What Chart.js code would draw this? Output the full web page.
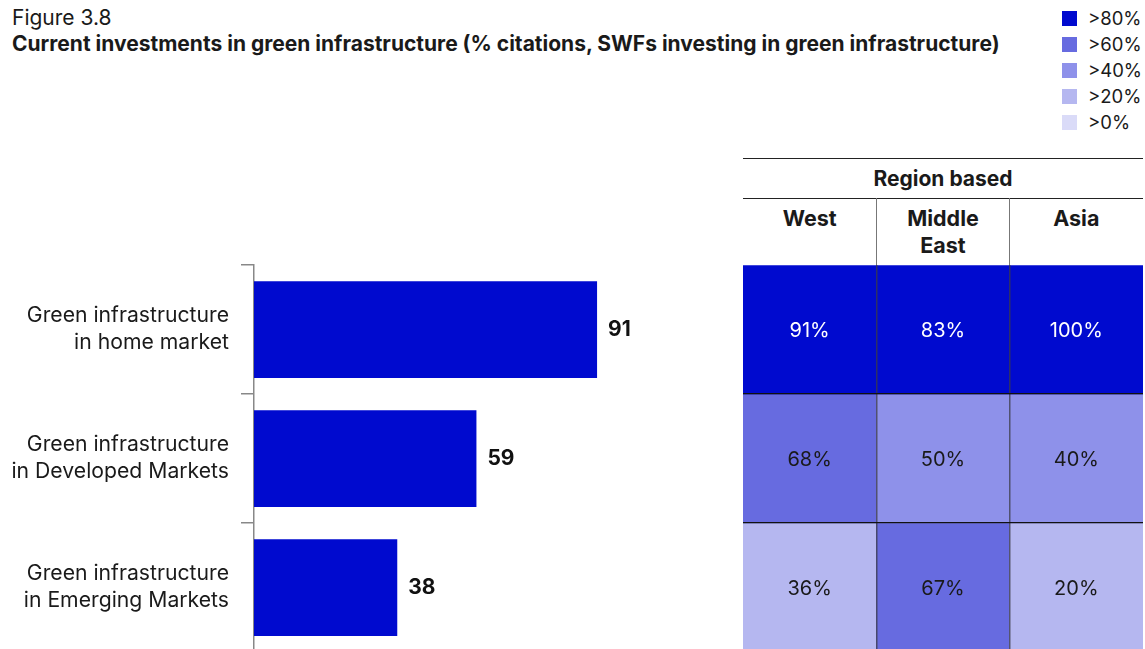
<!DOCTYPE html>
<html>
<head>
<meta charset="utf-8">
<script src="https://cdn.jsdelivr.net/npm/chart.js@4"></script>
<style>
  html, body { margin:0; padding:0; width:1145px; height:649px; overflow:hidden; background:#fff; }
  body { position:relative; font-family: Inter, "Noto Sans", sans-serif; color:#1a1a1a; }
  .abs { position:absolute; white-space:nowrap; }
  #fig { left:12px; top:6px; font-size:21px; line-height:24px; }
  #title { left:12px; top:32px; font-size:21px; line-height:24px; font-weight:700; }
  .leg { position:absolute; left:1062px; font-size:18.5px; line-height:24px; height:24px; }
  .leg span.sw { position:absolute; left:0; top:5px; width:15px; height:15px; }
  .leg span.tx { position:absolute; left:26px; top:0; white-space:nowrap; }
  .rule { position:absolute; left:743px; width:400px; height:0; border-top:1px solid #222; }
  #regionHdr { left:743px; width:400px; top:166px; text-align:center; font-weight:700; font-size:21px; line-height:26px; }
  .colHdr { position:absolute; top:205px; text-align:center; font-weight:700; font-size:21.5px; line-height:27px; }
  .vline { position:absolute; top:198px; height:67px; width:0; border-left:1.5px solid #777; }
  canvas { position:absolute; }
</style>
</head>
<body>
<div id="fig" class="abs">Figure 3.8</div>
<div id="title" class="abs">Current investments in green infrastructure (% citations, SWFs investing in green infrastructure)</div>
<div id="legend"></div>

<div class="rule" style="top:158px"></div>
<div id="regionHdr" class="abs">Region based</div>
<div class="rule" style="top:198px"></div>
<div id="colHdrs"></div>

<canvas id="bars" width="700" height="400" style="left:0;top:255px"></canvas>
<canvas id="heat" width="402" height="400" style="left:743px;top:255px"></canvas>

<script>
// ---- data ----
const categories = [
  ["Green infrastructure", "in home market"],
  ["Green infrastructure", "in Developed Markets"],
  ["Green infrastructure", "in Emerging Markets"]
];
const barValues = [91, 59, 38];
const regions = [["West"], ["Middle", "East"], ["Asia"]];
const regionGroup = "Region based";
const heatWest = [91, 68, 36];
const heatMiddleEast = [83, 50, 67];
const heatAsia = [100, 40, 20];
const legendLabels = [">80%", ">60%", ">40%", ">20%", ">0%"];
const legendThresholds = [80, 60, 40, 20, 0];
const legendColors = ["#000ACF", "#676BE0", "#8E91EA", "#B5B7F0", "#DADBF8"];

// ---- helpers ----
const FONT = 'Inter, "Noto Sans", sans-serif';
function colorFor(v) {
  for (let i = 0; i < legendThresholds.length; i++) if (v >= legendThresholds[i]) return legendColors[i];
  return legendColors[legendColors.length - 1];
}

// legend
const legEl = document.getElementById('legend');
const legTops = [6, 32, 58, 84, 110];
legendLabels.forEach((t, i) => {
  const d = document.createElement('div');
  d.className = 'leg';
  d.style.top = legTops[i] + 'px';
  d.innerHTML = '<span class="sw" style="background:' + legendColors[i] + '"></span><span class="tx">' + t + '</span>';
  legEl.appendChild(d);
});

// column headers
const colEl = document.getElementById('colHdrs');
const colW = 400 / regions.length;
regions.forEach((r, i) => {
  const d = document.createElement('div');
  d.className = 'colHdr';
  d.style.left = (743 + i * colW) + 'px';
  d.style.width = colW + 'px';
  d.innerHTML = r.join('<br>');
  colEl.appendChild(d);
  if (i > 0) {
    const v = document.createElement('div');
    v.className = 'vline';
    v.style.left = (743 + i * colW - 0.75) + 'px';
    colEl.appendChild(v);
  }
});

// ---- bar chart ----
const barLabelPlugin = {
  id: 'barLabels',
  afterDatasetsDraw(chart) {
    const ctx = chart.ctx;
    const meta = chart.getDatasetMeta(0);
    ctx.save();
    ctx.font = 'bold 21px ' + FONT;
    ctx.fillStyle = '#111';
    ctx.textBaseline = 'middle';
    ctx.textAlign = 'left';
    meta.data.forEach((el, i) => {
      ctx.fillText(String(barValues[i]), el.x + 11, el.y);
    });
    ctx.restore();
  }
};

new Chart(document.getElementById('bars'), {
  type: 'bar',
  data: {
    labels: categories,
    datasets: [{
      data: barValues,
      backgroundColor: '#000ACF',
      borderWidth: 0,
      barPercentage: 0.75,
      categoryPercentage: 1
    }]
  },
  options: {
    indexAxis: 'y',
    responsive: false,
    animation: false,
    devicePixelRatio: 1,
    layout: { padding: { top: 10, bottom: 3, left: 0, right: 69 } },
    plugins: { legend: { display: false }, tooltip: { enabled: false } },
    scales: {
      x: { display: false, min: 0, max: 100 },
      y: {
        type: 'category',
        grid: { display: true, drawOnChartArea: false, drawTicks: true, tickLength: 13, color: '#888', lineWidth: 1.5, offset: true },
        border: { display: true, color: '#888', width: 1.5 },
        ticks: { font: { family: FONT, size: 21.2, lineHeight: 1.27 }, color: '#1a1a1a', padding: 12 },
        afterFit(scale) { scale.width = 254; scale.paddingTop = 0; scale.paddingBottom = 0; }
      }
    }
  },
  plugins: [barLabelPlugin]
});

// ---- heatmap ----
const heatRowsByColumn = [heatWest, heatMiddleEast, heatAsia];
const nRows = categories.length;
const heatDatasets = [];
for (let r = 0; r < nRows; r++) {
  const vals = heatRowsByColumn.map(col => col[r]);
  heatDatasets.push({
    data: vals.map(() => 1),
    values: vals,
    backgroundColor: vals.map(colorFor),
    borderWidth: 0,
    barPercentage: 1,
    categoryPercentage: 1
  });
}

const cellLabelPlugin = {
  id: 'cellLabels',
  afterDatasetsDraw(chart) {
    const ctx = chart.ctx;
    ctx.save();
    ctx.font = '20px ' + FONT;
    ctx.textBaseline = 'middle';
    ctx.textAlign = 'center';
    chart.data.datasets.forEach((ds, i) => {
      chart.getDatasetMeta(i).data.forEach((el, j) => {
        const v = ds.values[j];
        ctx.fillStyle = v >= 80 ? '#ffffff' : '#1a1a1a';
        ctx.fillText(v + '%', el.x, (el.y + el.base) / 2 + 1);
      });
    });
    ctx.restore();
  }
};

new Chart(document.getElementById('heat'), {
  type: 'bar',
  data: { labels: regions.map(r => r.join(' ')), datasets: heatDatasets },
  options: {
    responsive: false,
    animation: false,
    devicePixelRatio: 1,
    layout: { padding: { top: 10, bottom: 3, left: 0, right: 2 } },
    plugins: { legend: { display: false }, tooltip: { enabled: false } },
    scales: {
      x: {
        type: 'category', stacked: true, offset: true,
        grid: { display: true, offset: true, drawTicks: false, lineWidth: 1.5, z: 1,
          color: (c) => (c.index === 1 || c.index === 2) ? 'rgba(60,60,70,0.75)' : 'rgba(0,0,0,0)' },
        border: { display: false },
        ticks: { display: false },
        afterFit(scale) { scale.height = 0; }
      },
      y: {
        type: 'linear', stacked: true, reverse: true, min: 0, max: 3,
        grid: { display: true, drawTicks: false, lineWidth: 1.2, z: 1,
          color: (c) => (c.tick && (c.tick.value === 1 || c.tick.value === 2)) ? '#111' : 'rgba(0,0,0,0)' },
        border: { display: false },
        ticks: { display: false, stepSize: 1 },
        afterFit(scale) { scale.width = 0; scale.paddingTop = 0; scale.paddingBottom = 0; }
      }
    }
  },
  plugins: [cellLabelPlugin]
});
</script>
</body>
</html>
